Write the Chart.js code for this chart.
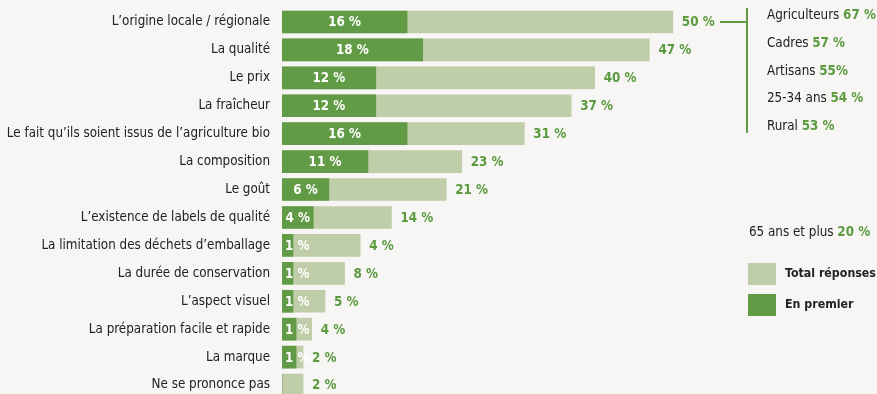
<!DOCTYPE html>
<html>
<head>
<meta charset="utf-8">
<script src="https://cdn.jsdelivr.net/npm/chart.js@4.4.1/dist/chart.umd.min.js"></script>
<style>
  html, body { margin: 0; padding: 0; background: #f7f6f4; overflow: hidden; }
  #wrap { width: 877px; height: 402px; }
</style>
</head>
<body>
<div id="wrap"><canvas id="chart" width="877" height="402"></canvas></div>
<script>
// Data
const categories = [
    "L\u2019origine locale / régionale",
    "La qualité",
    "Le prix",
    "La fraîcheur",
    "Le fait qu\u2019ils soient issus de l\u2019agriculture bio",
    "La composition",
    "Le goût",
    "L\u2019existence de labels de qualité",
    "La limitation des déchets d\u2019emballage",
    "La durée de conservation",
    "L\u2019aspect visuel",
    "La préparation facile et rapide",
    "La marque",
    "Ne se prononce pas"
];
const totalValues = [50, 47, 40, 37, 31, 23, 21, 14, 10, 8, 5.5, 3.8, 2.7, 2.7];
const firstValues = [16, 18, 12, 12, 16, 11, 6, 4, 1.4, 1.4, 1.4, 1.8, 1.8, 0];
const totalLabels = ["50 %", "47 %", "40 %", "37 %", "31 %", "23 %", "21 %", "14 %", "4 %", "8 %", "5 %", "4 %", "2 %", "2 %"];
const firstLabels = ["16 %", "18 %", "12 %", "12 %", "16 %", "11 %", "6 %", "4 %", "1 %", "1 %", "1 %", "1 %", "1 %", ""];
const profileNames = ["Agriculteurs", "Cadres", "Artisans", "25-34 ans", "Rural"];
const profileValues = ["67 %", "57 %", "55%", "54 %", "53 %"];
const seniorName = "65 ans et plus";
const seniorValue = "20 %";

const FONT = "'Liberation Sans Narrow', 'DejaVu Sans Condensed', 'Roboto', sans-serif";
const SIZE = 13.3;
const DARK = '#629b45';
const LIGHT = '#bfcea9';
const GREEN_TEXT = '#5b9a3e';
const INK = '#222222';

// value labels on the bars
const barLabels = {
    id: 'barLabels',
    afterDatasetsDraw(chart) {
        const ctx = chart.ctx;
        const dark = chart.getDatasetMeta(0).data;
        const light = chart.getDatasetMeta(1).data;
        ctx.save();
        ctx.font = 'bold ' + SIZE + 'px ' + FONT;
        ctx.textBaseline = 'middle';
        ctx.textAlign = 'left';
        light.forEach((bar, i) => {
            ctx.fillStyle = GREEN_TEXT;
            ctx.fillText(totalLabels[i], bar.x + 9, bar.y + 1);
        });
        dark.forEach((bar, i) => {
            if (!firstLabels[i]) return;
            const w = ctx.measureText(firstLabels[i]).width;
            let x = (bar.base + bar.x) / 2 - w / 2;
            x = Math.max(x, bar.base + 3);
            ctx.fillStyle = '#ffffff';
            ctx.fillText(firstLabels[i], x, bar.y + 1);
        });
        ctx.restore();
    }
};

// profile notes and legend on the right
const sideNotes = {
    id: 'sideNotes',
    afterDraw(chart) {
        const ctx = chart.ctx;
        const firstBar = chart.getDatasetMeta(1).data[0];
        ctx.save();
        // bracket
        ctx.strokeStyle = DARK;
        ctx.lineWidth = 2;
        ctx.beginPath();
        ctx.moveTo(720, firstBar.y);
        ctx.lineTo(747, firstBar.y);
        ctx.moveTo(747, 8);
        ctx.lineTo(747, 133);
        ctx.stroke();

        ctx.textBaseline = 'middle';
        ctx.textAlign = 'left';
        const rowY = [16, 44, 72, 99, 127];
        profileNames.forEach((name, i) => {
            ctx.font = SIZE + 'px ' + FONT;
            ctx.fillStyle = INK;
            ctx.fillText(name + ' ', 767, rowY[i]);
            const w = ctx.measureText(name + ' ').width;
            ctx.font = 'bold ' + SIZE + 'px ' + FONT;
            ctx.fillStyle = GREEN_TEXT;
            ctx.fillText(profileValues[i], 767 + w, rowY[i]);
        });

        ctx.font = SIZE + 'px ' + FONT;
        ctx.fillStyle = INK;
        ctx.fillText(seniorName + ' ', 749, 233);
        const sw = ctx.measureText(seniorName + ' ').width;
        ctx.font = 'bold ' + SIZE + 'px ' + FONT;
        ctx.fillStyle = GREEN_TEXT;
        ctx.fillText(seniorValue, 749 + sw, 233);

        // legend
        const items = [
            { text: chart.data.datasets[1].label, color: LIGHT, y: 263 },
            { text: chart.data.datasets[0].label, color: DARK, y: 294 }
        ];
        items.forEach(it => {
            ctx.fillStyle = it.color;
            ctx.fillRect(748, it.y, 28, 22);
            ctx.font = 'bold 12.3px ' + FONT;
            ctx.fillStyle = INK;
            ctx.fillText(it.text, 785, it.y + 11);
        });
        ctx.restore();
    }
};

new Chart(document.getElementById('chart'), {
    type: 'bar',
    data: {
        labels: categories,
        datasets: [
            { label: 'En premier', data: firstValues, backgroundColor: DARK, grouped: false, barThickness: 22, order: 0 },
            { label: 'Total réponses', data: totalValues, backgroundColor: LIGHT, grouped: false, barThickness: 22, order: 1 }
        ]
    },
    options: {
        indexAxis: 'y',
        responsive: false,
        animation: false,
        devicePixelRatio: 1,
        layout: { padding: { left: 0, right: 126, top: 8, bottom: 3 } },
        plugins: {
            legend: { display: false },
            tooltip: { enabled: false }
        },
        scales: {
            x: { min: 0, max: 60, display: false },
            y: {
                grid: { display: false, drawTicks: false },
                border: { display: false },
                ticks: { color: INK, padding: 12, font: { family: FONT, size: SIZE } },
                afterFit(scale) {
                    scale.width = 282;
                    scale.paddingTop = 0;
                    scale.paddingBottom = 0;
                }
            }
        }
    },
    plugins: [barLabels, sideNotes]
});
</script>
</body>
</html>
